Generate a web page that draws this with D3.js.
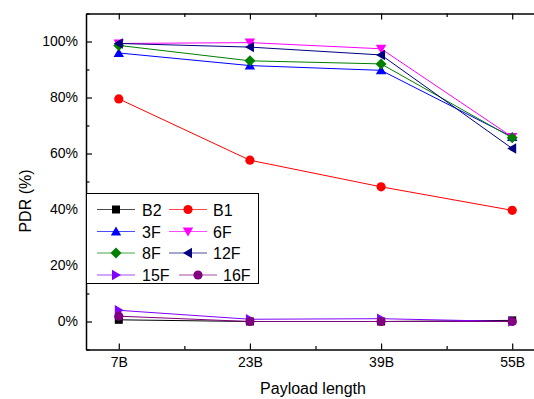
<!DOCTYPE html>
<html>
<head>
<meta charset="utf-8">
<script src="https://cdn.jsdelivr.net/npm/d3@7/dist/d3.min.js"></script>
<style>
  html, body { margin: 0; padding: 0; background: #fff; }
  svg { display: block; font-family: Arial, "Liberation Sans", sans-serif; }
</style>
</head>
<body>
<svg id="chart" width="534" height="399"></svg>
<script>
// Payload lengths (bytes) on the x axis
const payloads = [7, 23, 39, 55];
const payloadLabels = ["7B", "23B", "39B", "55B"];

// PDR (%) per configuration
const seriesNames = ["B2", "B1", "3F", "6F", "8F", "12F", "15F", "16F"];
const pdrB2  = [0.6, 0.0, 0.0, 0.4];
const pdrB1  = [79.5, 57.6, 48.1, 39.7];
const pdr3F  = [95.9, 91.4, 89.7, 65.9];
const pdr6F  = [99.3, 99.6, 97.4, 65.9];
const pdr8F  = [98.6, 93.1, 92.0, 65.6];
const pdr12F = [99.3, 98.0, 95.2, 61.8];
const pdr15F = [4.0, 0.8, 1.0, 0.0];
const pdr16F = [1.9, 0.0, 0.0, 0.0];

const seriesColors = ["#000000", "#ff0000", "#0000ff", "#ff00ff", "#008000", "#000080", "#8000ff", "#800080"];
const seriesMarkers = ["square", "circle", "up", "down", "diamond", "left", "right", "circle"];

const yTicks = [0, 20, 40, 60, 80, 100];
const yMinorTicks = [-10, 10, 30, 50, 70, 90, 110];
const xMinorTicks = [15, 31, 47];

const seriesValues = [pdrB2, pdrB1, pdr3F, pdr6F, pdr8F, pdr12F, pdr15F, pdr16F];
const series = seriesNames.map((name, i) => ({
  name, color: seriesColors[i], marker: seriesMarkers[i],
  points: payloads.map((p, j) => ({ x: p, y: seriesValues[i][j] }))
}));

const svg = d3.select("#chart");
const plotLeft = 86, plotRight = 545, plotTop = 13.5, plotBottom = 349.5;

const x = d3.scaleLinear().domain([3, 59]).range([plotLeft, plotRight]);
const y = d3.scaleLinear().domain([-10, 110]).range([plotBottom, plotTop]);

// marker shapes
function markerPath(type) {
  switch (type) {
    case "square": return "M-4,-4H4V4H-4Z";
    case "up": return "M0,-5L5.2,4L-5.2,4Z";
    case "down": return "M0,5L5.2,-4L-5.2,-4Z";
    case "left": return "M-5,0L4,-5.2L4,5.2Z";
    case "right": return "M5,0L-4,-5.2L-4,5.2Z";
    case "diamond": return "M0,-5.5L5.5,0L0,5.5L-5.5,0Z";
    default: return null;
  }
}
function drawMarker(g, type, color, cx, cy) {
  if (type === "circle") {
    g.append("circle").attr("cx", cx).attr("cy", cy).attr("r", 4.6).attr("fill", color);
  } else {
    g.append("path").attr("d", markerPath(type))
      .attr("transform", `translate(${cx},${cy})`).attr("fill", color);
  }
}

// series lines and markers
const line = d3.line().x(d => x(d.x)).y(d => y(d.y));
const plot = svg.append("g");
series.forEach(s => {
  const g = plot.append("g");
  g.append("path").datum(s.points).attr("d", line)
    .attr("fill", "none").attr("stroke", s.color).attr("stroke-width", 1);
  s.points.forEach(p => drawMarker(g, s.marker, s.color, x(p.x), y(p.y)));
});

// axes (ticks point inward)
const axisStyle = g => {
  g.select(".domain").attr("stroke", "#000").attr("stroke-width", 1.5);
  g.selectAll(".tick line").attr("stroke", "#000").attr("stroke-width", 1.2);
  g.selectAll(".tick text").attr("fill", "#000").attr("font-size", 14)
    .attr("font-family", "Arial, 'Liberation Sans', sans-serif");
};

svg.append("g").attr("transform", `translate(0,${plotBottom})`)
  .call(d3.axisBottom(x).tickValues(payloads).tickFormat((d, i) => payloadLabels[i])
    .tickSizeInner(-6).tickSizeOuter(0).tickPadding(8))
  .call(axisStyle);
svg.append("g").attr("transform", `translate(0,${plotBottom})`)
  .call(d3.axisBottom(x).tickValues(xMinorTicks).tickFormat("").tickSizeInner(-3.5).tickSizeOuter(0))
  .call(axisStyle).select(".domain").remove();

svg.append("g").attr("transform", `translate(0,${plotTop})`)
  .call(d3.axisTop(x).tickValues(payloads).tickFormat("").tickSizeInner(-6).tickSizeOuter(0))
  .call(axisStyle);
svg.append("g").attr("transform", `translate(0,${plotTop})`)
  .call(d3.axisTop(x).tickValues(xMinorTicks).tickFormat("").tickSizeInner(-3.5).tickSizeOuter(0))
  .call(axisStyle).select(".domain").remove();

svg.append("g").attr("transform", `translate(${plotLeft},0)`)
  .call(d3.axisLeft(y).tickValues(yTicks).tickFormat(d => d + "%")
    .tickSizeInner(-6).tickSizeOuter(0).tickPadding(8))
  .call(axisStyle);
svg.append("g").attr("transform", `translate(${plotLeft},0)`)
  .call(d3.axisLeft(y).tickValues(yMinorTicks).tickFormat("").tickSizeInner(-3.5).tickSizeOuter(0))
  .call(axisStyle).select(".domain").remove();

svg.append("g").attr("transform", `translate(${plotRight},0)`)
  .call(d3.axisRight(y).tickValues(yTicks).tickFormat("").tickSizeInner(-6).tickSizeOuter(0))
  .call(axisStyle);

// axis titles
svg.append("text").attr("x", 313).attr("y", 394).attr("text-anchor", "middle")
  .attr("font-size", 16).attr("fill", "#000").text("Payload length");
svg.append("text").attr("transform", "translate(31,201) rotate(-90)")
  .attr("text-anchor", "middle").attr("font-size", 16).attr("fill", "#000").text("PDR (%)");

// legend
const legend = svg.append("g");
legend.append("rect").attr("x", 86.5).attr("y", 193.5).attr("width", 172).attr("height", 90)
  .attr("fill", "#fff").attr("stroke", "#000").attr("stroke-width", 1);
const rowY = [209.5, 231.5, 253, 275];
series.forEach((s, i) => {
  const row = Math.floor(i / 2), col = i % 2;
  let x0 = col === 0 ? 97 : 169;
  let len = 38;
  let tx = col === 0 ? 142 : 213;
  if (s.name === "16F") { x0 = 179; tx = 223; }
  const cy = rowY[row];
  const g = legend.append("g");
  g.append("line").attr("x1", x0).attr("x2", x0 + len).attr("y1", cy).attr("y2", cy)
    .attr("stroke", s.color).attr("stroke-width", 1).attr("opacity", 0.7);
  drawMarker(g, s.marker, s.color, x0 + len / 2, cy);
  g.append("text").attr("x", tx).attr("y", cy + 6).attr("font-size", 16)
    .attr("fill", "#000").text(s.name);
});
</script>
</body>
</html>
